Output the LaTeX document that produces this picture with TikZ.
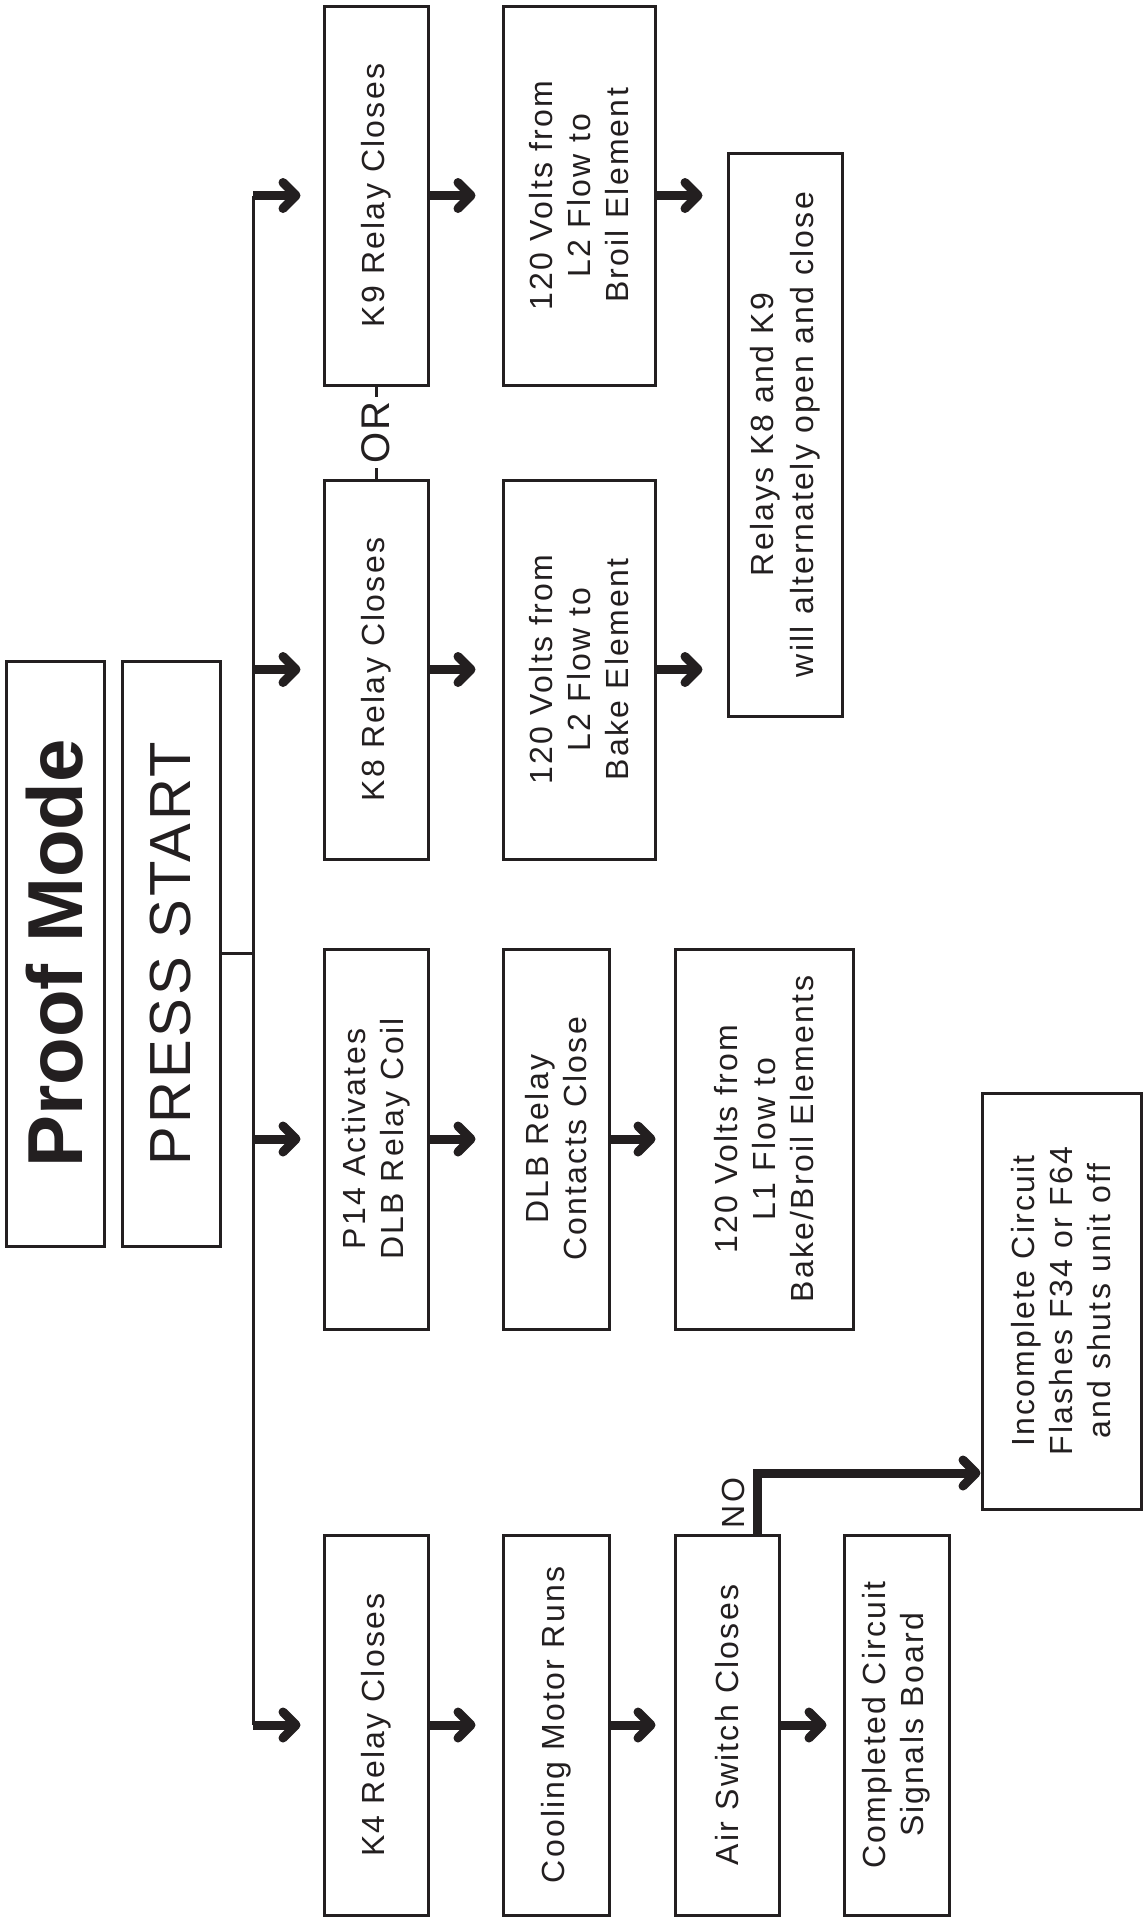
\documentclass[tikz,border=0pt]{standalone}
\usepackage{fontspec}
\setmainfont[LetterSpace=7]{Liberation Sans}
\newfontfamily\headfont{Liberation Sans}
\newfontfamily\pressfont[LetterSpace=5]{Liberation Sans}
\usetikzlibrary{arrows.meta}
\definecolor{inkblack}{HTML}{231F20}
\tikzset{
  flowbox/.style={draw=inkblack, line width=1.5pt, rotate=90, align=center,
    text=inkblack, inner sep=0pt, font=\fontsize{16}{19}\selectfont},
  flowarrow/.style={draw=inkblack, line width=4.5pt,
    -{Straight Barb[length=6.5pt,width=13pt,round]}, shorten >=12pt},
  trunkline/.style={draw=inkblack, line width=1.5pt},
}

\begin{document}
\begin{tikzpicture}[x=0.5pt, y=-0.5pt]
\useasboundingbox (0,0) rectangle (1144,1919);

% title and start
\node[flowbox, minimum width=292.5pt, minimum height=49pt,
      font=\headfont\bfseries\fontsize{39}{40}\selectfont] (title) at (55,953.5) {Proof Mode};
\node[flowbox, minimum width=292.5pt, minimum height=49pt,
      font=\pressfont\fontsize{29}{30}\selectfont] (press) at (171,953.5) {PRESS START};

% first column
\node[flowbox, minimum width=189.5pt, minimum height=52pt] (k9) at (376,195.5) {K9 Relay Closes};
\node[flowbox, minimum width=189.5pt, minimum height=52pt] (k8) at (376,669.5) {K8 Relay Closes};
\node[flowbox, minimum width=190pt, minimum height=52pt] (p14) at (376,1139) {P14 Activates\\DLB Relay Coil};
\node[flowbox, minimum width=190pt, minimum height=52pt] (k4) at (376,1725) {K4 Relay Closes};

% second column
\node[flowbox, minimum width=189.5pt, minimum height=76pt] (volt9) at (579,195.5) {120 Volts from\\L2 Flow to\\Broil Element};
\node[flowbox, minimum width=189.5pt, minimum height=76pt] (volt8) at (579,669.5) {120 Volts from\\L2 Flow to\\Bake Element};
\node[flowbox, minimum width=190pt, minimum height=53pt] (dlb) at (556,1139) {DLB Relay\\Contacts Close};
\node[flowbox, minimum width=190pt, minimum height=53pt] (cool) at (556,1725) {Cooling Motor Runs};

% third column
\node[flowbox, minimum width=281.5pt, minimum height=57pt,
      font=\fontsize{16}{20}\selectfont] (relays) at (785,434.5) {Relays K8 and K9\\will alternately open and close};
\node[flowbox, minimum width=190pt, minimum height=89pt] (volt1) at (764,1139) {120 Volts from\\L1 Flow to\\Bake/Broil Elements};
\node[flowbox, minimum width=190pt, minimum height=52pt] (air) at (727,1725) {Air Switch Closes};

% last column
\node[flowbox, minimum width=190pt, minimum height=52.5pt] (done) at (896.5,1725) {Completed Circuit\\Signals Board};
\node[flowbox, minimum width=208pt, minimum height=79.5pt] (fault) at (1061.5,1301) {Incomplete Circuit\\Flashes F34 or F64\\and shuts unit off};

% trunk
\coordinate (trunkx) at (253,948);
\coordinate (nocol) at (757,1473);
\draw[trunkline] (press.south) -- (press.south -| trunkx);
\draw[trunkline] (k9.north -| trunkx) -- (k4.north -| trunkx);
\draw[flowarrow, shorten >=11pt] (k9.north -| trunkx) -- (k9.north);
\draw[flowarrow, shorten >=11pt] (k8.north -| trunkx) -- (k8.north);
\draw[flowarrow, shorten >=11pt] (p14.north -| trunkx) -- (p14.north);
\draw[flowarrow, shorten >=11pt] (k4.north -| trunkx) -- (k4.north);

% OR link
\draw[trunkline] (k9.west) -- (k8.east)
  node[midway, fill=white, rotate=90, inner sep=2pt, text=inkblack,
       font=\fontsize{20}{22}\selectfont] (orlabel) {OR};

% rows
\draw[flowarrow, shorten >=13pt] (k9.south) -- (volt9.north);
\draw[flowarrow, shorten >=13pt] (k8.south) -- (volt8.north);
\draw[flowarrow, shorten >=13pt] (p14.south) -- (dlb.north);
\draw[flowarrow, shorten >=13pt] (k4.south) -- (cool.north);
\draw[flowarrow] (volt9.south) -- (volt9.south -| relays.north);
\draw[flowarrow] (volt8.south) -- (volt8.south -| relays.north);
\draw[flowarrow, shorten >=9pt] (dlb.south) -- (volt1.north);
\draw[flowarrow, shorten >=9pt] (cool.south) -- (air.north);
\draw[flowarrow, shorten >=8pt] (air.south) -- (done.north);

% NO branch
\draw[flowarrow, shorten >=0pt] (nocol |- air.east) -- (nocol) -- (nocol -| fault.north);
\node[rotate=90, text=inkblack, font=\fontsize{16}{19}\selectfont] (nolabel) at (733,1503) {NO};
\end{tikzpicture}
\end{document}
